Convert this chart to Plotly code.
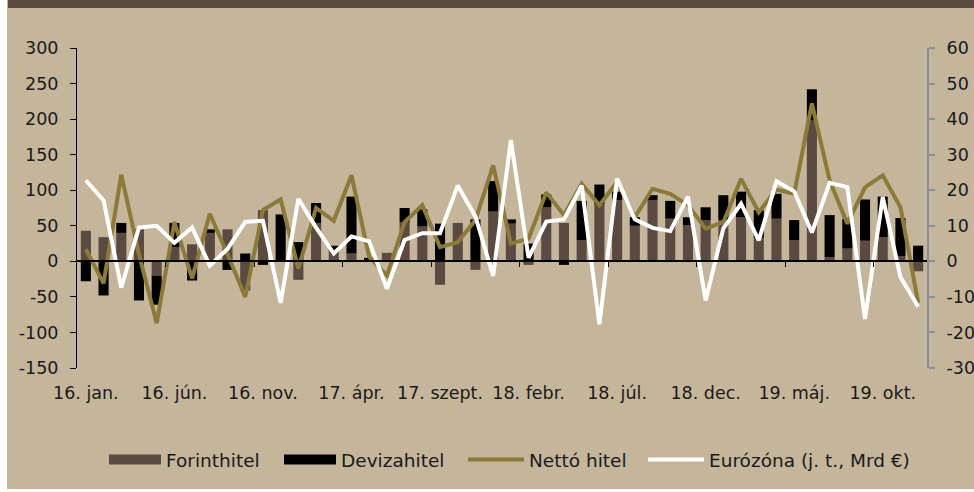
import plotly.graph_objects as go

months = [f"{y}. {m}" for y in ("16", "17", "18", "19") for m in
          ("jan.", "febr.", "márc.", "ápr.", "máj.", "jún.", "júl.", "aug.", "szept.", "okt.", "nov.", "dec.")]

forint = [43, 34, 40, 45, -20, 20, 24, 40, 45, -41, 72, 0, -26, 54, 15, 11, 3, 12, 55, 49, -33, 54, -12, 70,
          53, -5, 76, 54, 30, 80, 86, 50, 86, 60, 51, 58, 58, 62, 33, 60, 30, 198, 6, 18, 29, 34, 7, -14]
deviza = [-28, -48, 14, -55, -41, 34, -27, 5, -12, 11, -5, 66, 27, 28, 7, 80, 2, 0, 20, 24, 53, 0, 59, 43,
          6, 25, 18, -5, 55, 28, 12, 12, 7, 25, 11, 18, 35, 36, 39, 35, 28, 44, 59, 42, 58, 57, 54, 22]
netto = [17, -31, 122, 10, -87, 55, -24, 67, 10, -50, 72, 87, -10, 75, 57, 121, 6, -20, 55, 79, 20, 27, 58, 135,
         25, 32, 97, 65, 109, 79, 112, 62, 102, 95, 79, 46, 55, 116, 69, 101, 95, 222, 114, 53, 104, 121, 76, -58]
euro = [22.8, 17.1, -7.4, 9.5, 10, 5.2, 9.5, -1.2, 3.5, 11.1, 11.4, -11.7, 17.6, 9.5, 2.2, 7, 5.6, -7.7, 6, 7.9,
        7.9, 21.3, 12.6, -4.1, 34.1, 1, 11.2, 11.8, 21.3, -17.7, 23.3, 11.8, 9.4, 8.5, 18.2, -11, 9.3, 16.2, 5.9,
        22.5, 19.7, 8.1, 22.1, 20.9, -16.2, 18.1, -4.4, -12.8]

left_ticks = [-150, -100, -50, 0, 50, 100, 150, 200, 250, 300]
right_ticks = [-30, -20, -10, 0, 10, 20, 30, 40, 50, 60]
left_ticktext = [str(v) for v in left_ticks]
right_ticktext = [str(v) for v in right_ticks]

names = ["Forinthitel", "Devizahitel", "Nettó hitel", "Eurózóna (j. t., Mrd €)"]
colors = ["#5A4A42", "#000000", "#8B7A3A", "#FFFFFF"]

x = list(range(len(months)))
label_idx = x[::5]
label_txt = [months[i] for i in label_idx]
tick_bounds = [i - 0.5 for i in label_idx[1:]]

BG = "#C4B59B"
FONT = "DejaVu Sans"
W, H = 974, 492
L, R, T, B = 77, 47, 48, 124
PW, PH = W - L - R, H - T - B

def px(xp):
    return (xp - L) / PW

def py(yp):
    return (H - B - yp) / PH

fig = go.Figure()
fig.add_trace(go.Bar(x=x, y=forint, name=names[0], marker=dict(color=colors[0], line=dict(width=0)),
                     width=0.57, showlegend=False))
fig.add_trace(go.Bar(x=x, y=deviza, name=names[1], marker=dict(color=colors[1], line=dict(width=0)),
                     width=0.57, showlegend=False))
fig.add_trace(go.Scatter(x=x, y=netto, name=names[2], mode="lines",
                         line=dict(color=colors[2], width=4), showlegend=False))
fig.add_trace(go.Scatter(x=x, y=euro, name=names[3], mode="lines", yaxis="y2",
                         line=dict(color=colors[3], width=4), showlegend=False))

# legend entries (one legend box per entry, placed like the reference)
legend_ids = ["legend", "legend2", "legend3", "legend4"]
swatch_x = [112, 287, 471, 651]
item_w = [52, 52, 56, 56]
for nm, c, w, lg in zip(names, colors, [11, 11, 4, 4], legend_ids):
    fig.add_trace(go.Scatter(x=[None], y=[None], name=nm, mode="lines", legend=lg,
                             line=dict(color=c, width=w)))

# zero axis with tick marks
fig.add_trace(go.Scatter(x=[None], y=[None], xaxis="x2", showlegend=False, hoverinfo="skip"))

legend_common = dict(orientation="h", xanchor="left", y=py(460), yanchor="middle",
                     font=dict(size=18.5), bgcolor="rgba(0,0,0,0)", borderwidth=0)
legends = {lg: dict(legend_common, x=px(sx - 8), itemwidth=iw)
           for lg, sx, iw in zip(legend_ids, swatch_x, item_w)}

fig.update_layout(
    width=W, height=H,
    margin=dict(l=L, r=R, t=T, b=B, autoexpand=False),
    paper_bgcolor=BG, plot_bgcolor=BG,
    barmode="relative",
    font=dict(family=FONT, size=17.5, color="#1A1A1A"),
    xaxis=dict(range=[-0.5, len(x) - 0.5], tickvals=label_idx, ticktext=label_txt, ticks="",
               showline=False, showgrid=False, zeroline=False, ticklabelstandoff=12,
               tickfont=dict(size=17.5)),
    xaxis2=dict(overlaying="x", anchor="free", position=150 / 450, range=[-0.5, len(x) - 0.5],
                tickvals=tick_bounds, ticks="outside", ticklen=5, tickcolor="#000000", tickwidth=1,
                showline=True, linecolor="#000000", linewidth=1.5, showticklabels=False,
                showgrid=False, zeroline=False),
    yaxis=dict(range=[-150, 300], tickvals=left_ticks, ticktext=left_ticktext, ticks="outside", ticklen=6,
               tickcolor="#000000", showline=True, linecolor="#000000", linewidth=1, showgrid=False,
               zeroline=False, ticklabelstandoff=8),
    yaxis2=dict(overlaying="y", side="right", range=[-30, 60], tickvals=right_ticks, ticktext=right_ticktext,
                ticks="outside", ticklen=6, tickcolor="#8A9099", tickwidth=2, showline=True,
                linecolor="#8A9099", linewidth=2, showgrid=False, zeroline=False, ticklabelstandoff=8),
    shapes=[
        dict(type="rect", xref="paper", yref="paper", x0=px(8), x1=px(W + 5), y0=py(8), y1=py(-5),
             fillcolor="#5A4A40", line=dict(width=0), layer="above"),
        dict(type="rect", xref="paper", yref="paper", x0=px(-5), x1=px(7), y0=py(H + 5), y1=py(-5),
             fillcolor="#FFFFFF", line=dict(width=0), layer="above"),
        dict(type="rect", xref="paper", yref="paper", x0=px(-5), x1=px(W + 5), y0=py(H + 5), y1=py(489),
             fillcolor="#FFFFFF", line=dict(width=0), layer="above"),
    ],
    **legends,
)

fig.write_html("out.html", config={"displayModeBar": False},
               post_script="document.body.style.margin='0';document.body.style.overflow='hidden';")
